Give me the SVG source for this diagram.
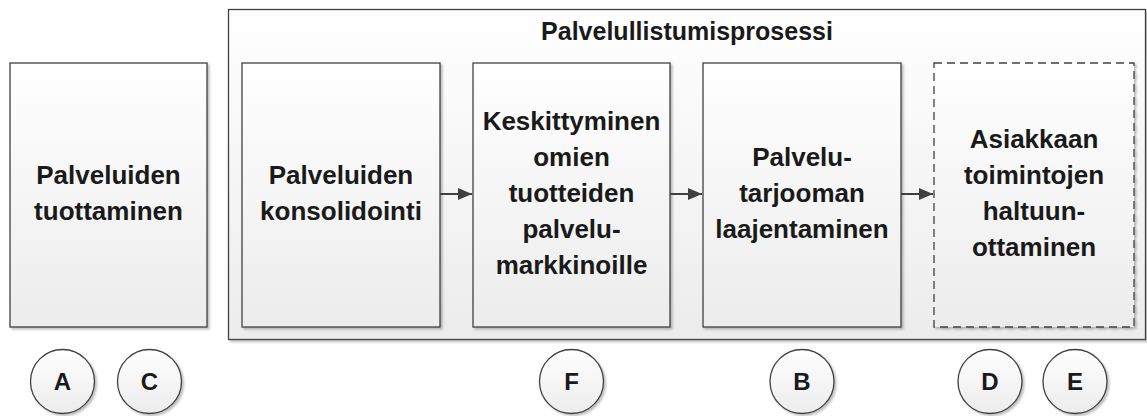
<svg xmlns="http://www.w3.org/2000/svg" width="1147" height="416" viewBox="0 0 1147 416">
<defs>
<linearGradient id="g" x1="0" y1="0" x2="0" y2="1">
<stop offset="0" stop-color="#ffffff"/>
<stop offset="1" stop-color="#ececec"/>
</linearGradient>
<filter id="sh" x="-5%" y="-5%" width="115%" height="115%">
<feGaussianBlur in="SourceAlpha" stdDeviation="1.2"/>
<feOffset dx="2" dy="2" result="b"/>
<feComponentTransfer><feFuncA type="linear" slope="0.25"/></feComponentTransfer>
<feMerge><feMergeNode/><feMergeNode in="SourceGraphic"/></feMerge>
</filter>
<marker id="arr" markerWidth="14" markerHeight="12" refX="14" refY="6" orient="auto" markerUnits="userSpaceOnUse">
<path d="M0,0 L14,6 L0,12 Z" fill="#404040"/>
</marker>
</defs>
<style>
.box{fill:url(#g);stroke:#404040;stroke-width:1.3;filter:url(#sh)}
.dash{stroke-dasharray:8 5}
.t{font-family:"Liberation Sans",Arial,sans-serif;font-weight:bold;font-size:26px;fill:#1a1a1a;text-anchor:middle}
.title{font-size:25px}
.c{font-size:24px}
.conn{stroke:#404040;stroke-width:2;fill:none;marker-end:url(#arr)}
</style>
<rect width="1147" height="416" fill="#ffffff"/>

<g id="outer">
<rect class="box" x="228.5" y="9.5" width="917" height="330"/>
<text class="t title" x="687" y="40">Palvelullistumisprosessi</text>
</g>

<g id="n1">
<rect class="box" x="10" y="63" width="197" height="264"/>
<text class="t" x="108.5" y="184">Palveluiden</text>
<text class="t" x="108.5" y="220">tuottaminen</text>
</g>

<g id="n2">
<rect class="box" x="242" y="63" width="198" height="264"/>
<text class="t" x="341" y="184">Palveluiden</text>
<text class="t" x="341" y="220">konsolidointi</text>
</g>

<g id="n3">
<rect class="box" x="473" y="63" width="197" height="264"/>
<text class="t" x="571.5" y="130">Keskittyminen</text>
<text class="t" x="571.5" y="166">omien</text>
<text class="t" x="571.5" y="202">tuotteiden</text>
<text class="t" x="571.5" y="238">palvelu-</text>
<text class="t" x="571.5" y="274">markkinoille</text>
</g>

<g id="n4">
<rect class="box" x="703" y="63" width="198" height="264"/>
<text class="t" x="802" y="166">Palvelu-</text>
<text class="t" x="802" y="202">tarjooman</text>
<text class="t" x="802" y="238">laajentaminen</text>
</g>

<g id="n5">
<rect class="box dash" x="934" y="63" width="200" height="264"/>
<text class="t" x="1034" y="148">Asiakkaan</text>
<text class="t" x="1034" y="184">toimintojen</text>
<text class="t" x="1034" y="220">haltuun-</text>
<text class="t" x="1034" y="256">ottaminen</text>
</g>

<g id="connectors">
<line class="conn" x1="440" y1="194" x2="472" y2="194"/>
<line class="conn" x1="670" y1="194" x2="702" y2="194"/>
<line class="conn" x1="901" y1="194" x2="933" y2="194"/>
</g>

<g id="cA"><circle class="box" cx="62.5" cy="381.5" r="32"/><text class="t c" x="62.5" y="390">A</text></g>
<g id="cC"><circle class="box" cx="149.5" cy="381.5" r="32"/><text class="t c" x="149.5" y="390">C</text></g>
<g id="cF"><circle class="box" cx="571.5" cy="381.5" r="32"/><text class="t c" x="571.5" y="390">F</text></g>
<g id="cB"><circle class="box" cx="802" cy="381.5" r="32"/><text class="t c" x="802" y="390">B</text></g>
<g id="cD"><circle class="box" cx="990" cy="381.5" r="32"/><text class="t c" x="990" y="390">D</text></g>
<g id="cE"><circle class="box" cx="1075" cy="381.5" r="32"/><text class="t c" x="1075" y="390">E</text></g>
</svg>
